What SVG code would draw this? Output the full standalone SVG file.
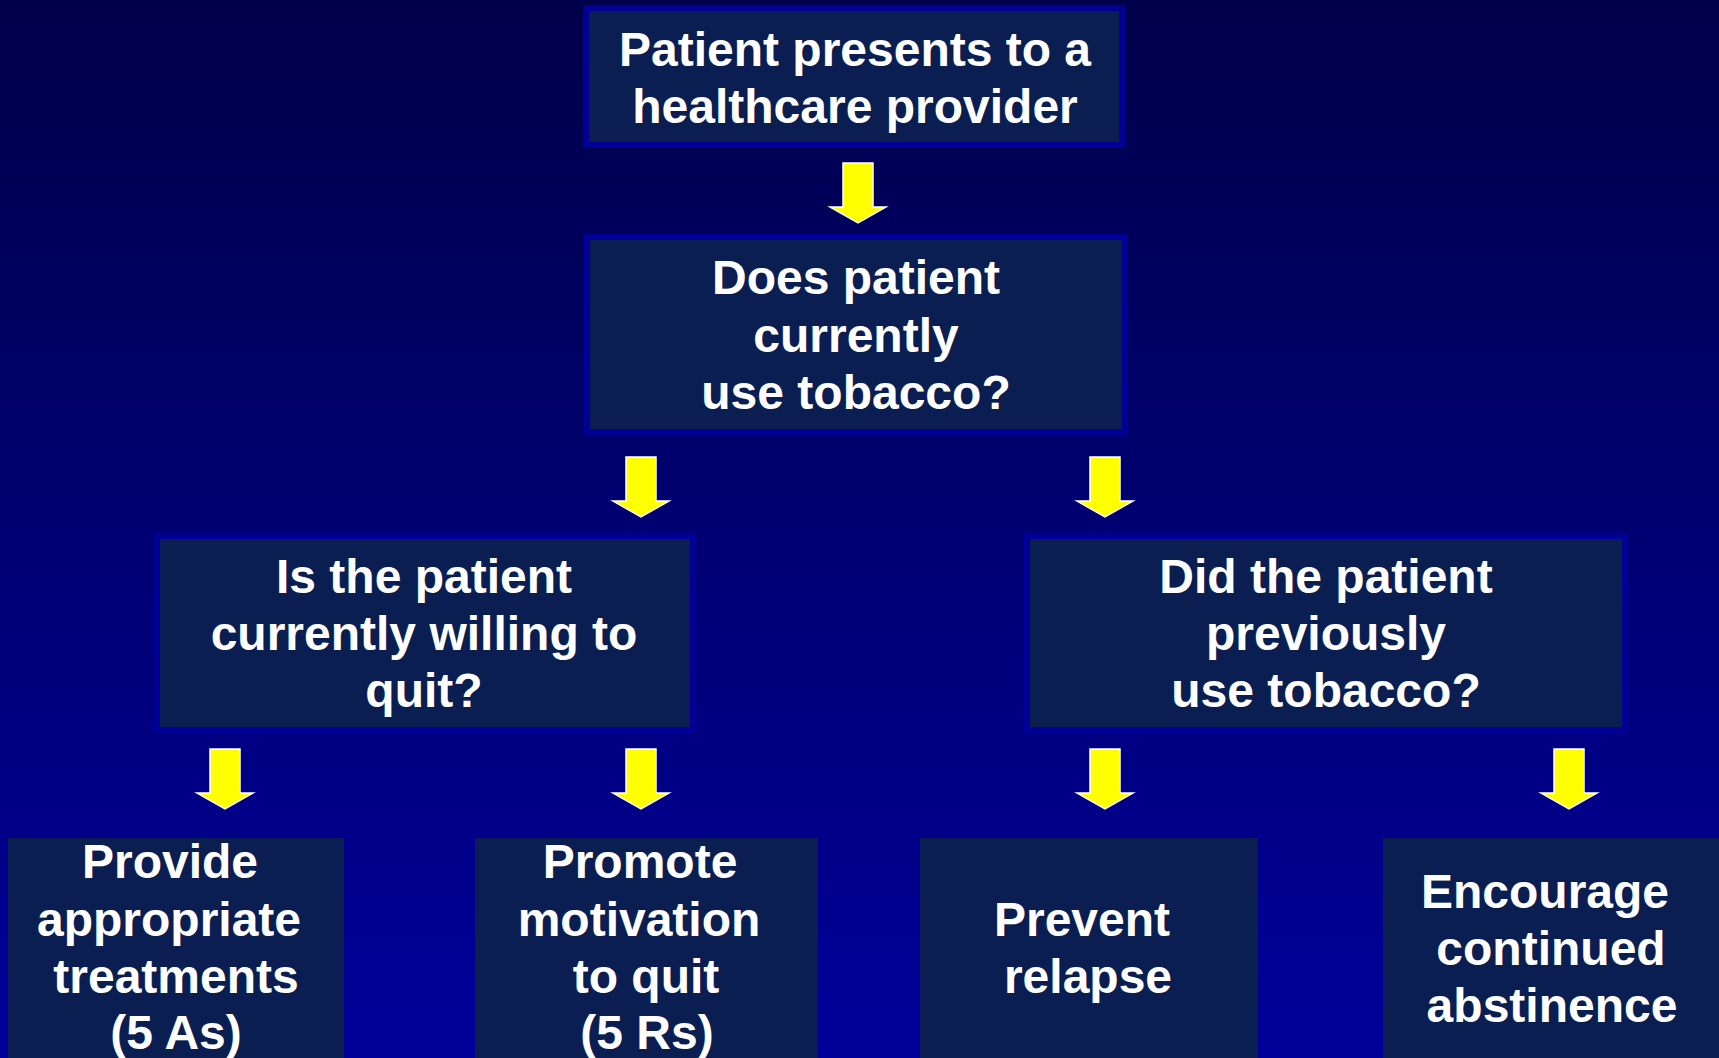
<svg xmlns="http://www.w3.org/2000/svg" xmlns:xlink="http://www.w3.org/1999/xlink" width="1719" height="1058" viewBox="0 0 1719 1058">
<style>
.box{fill:#0a1e52;stroke:#000096;stroke-width:6}
.plain{fill:#0a1e52}
text{font-family:"Liberation Sans",Arial,sans-serif;font-weight:bold;font-size:48px;fill:#ffffff;text-anchor:middle}
.arr{fill:#ffff00;stroke:#ffffff;stroke-width:1.5;stroke-linejoin:miter}
</style>
<defs>
<linearGradient id="bg" x1="0" y1="0" x2="0" y2="1">
<stop offset="0" stop-color="#00004a"/>
<stop offset="1" stop-color="#00009a"/>
</linearGradient>
<path id="arrow" class="arr" d="M-15,0 V44 H-28 L0,60 L28,44 H15 V0 Z"/>
</defs>
<rect x="0" y="0" width="1719" height="1058" fill="url(#bg)"/>

<g id="connectors">
<use xlink:href="#arrow" href="#arrow" x="858" y="163"/>
<use xlink:href="#arrow" href="#arrow" x="641" y="457"/>
<use xlink:href="#arrow" href="#arrow" x="1105" y="457"/>
<use xlink:href="#arrow" href="#arrow" x="225" y="749"/>
<use xlink:href="#arrow" href="#arrow" x="641" y="749"/>
<use xlink:href="#arrow" href="#arrow" x="1105" y="749"/>
<use xlink:href="#arrow" href="#arrow" x="1569" y="749"/>
</g>

<g id="n1">
<rect class="box" x="586" y="8" width="536" height="137"/>
<text x="855" y="66">Patient presents to a</text>
<text x="855" y="123">healthcare provider</text>
</g>

<g id="n2">
<rect class="box" x="587" y="237" width="538" height="195"/>
<text x="856" y="294">Does patient</text>
<text x="856" y="352">currently</text>
<text x="856" y="409">use tobacco?</text>
</g>

<g id="n3">
<rect class="box" x="157" y="536" width="536" height="194"/>
<text x="424" y="593">Is the patient</text>
<text x="424" y="650">currently willing to</text>
<text x="424" y="707">quit?</text>
</g>

<g id="n4">
<rect class="box" x="1027" y="536" width="598" height="194"/>
<text x="1326" y="593">Did the patient</text>
<text x="1326" y="650">previously</text>
<text x="1326" y="707">use tobacco?</text>
</g>

<g id="n5">
<rect class="plain" x="8" y="838" width="336" height="230"/>
<text x="170" y="878">Provide</text>
<text x="169" y="936">appropriate</text>
<text x="176" y="993">treatments</text>
<text x="176" y="1049">(5 As)</text>
</g>

<g id="n6">
<rect class="plain" x="475" y="838" width="343" height="230"/>
<text x="640" y="878">Promote</text>
<text x="639" y="936">motivation</text>
<text x="646" y="993">to quit</text>
<text x="647" y="1049">(5 Rs)</text>
</g>

<g id="n7">
<rect class="plain" x="920" y="838" width="338" height="230"/>
<text x="1082" y="936">Prevent</text>
<text x="1088" y="993">relapse</text>
</g>

<g id="n8">
<rect class="plain" x="1383" y="838" width="346" height="230"/>
<text x="1545" y="908">Encourage</text>
<text x="1551" y="965">continued</text>
<text x="1552" y="1022">abstinence</text>
</g>
</svg>
